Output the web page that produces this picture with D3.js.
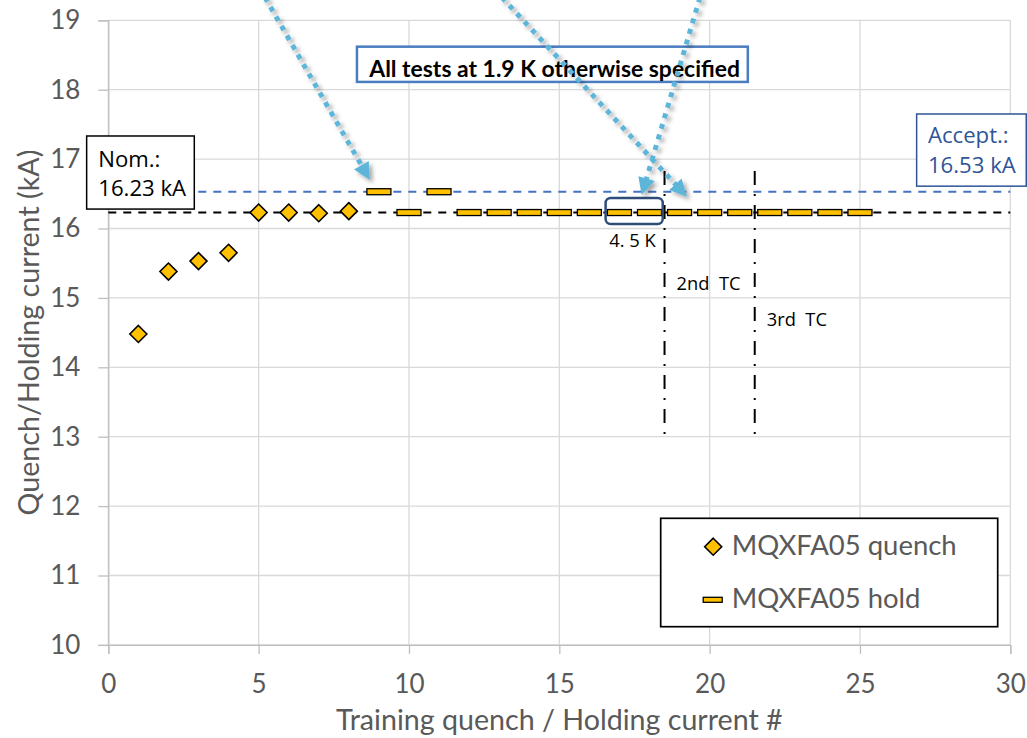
<!DOCTYPE html>
<html><head><meta charset="utf-8">
<script src="https://cdn.jsdelivr.net/npm/d3@7"></script>
<style>
body{margin:0;background:#fff}
svg{display:block}
text{white-space:pre}
</style>
</head><body>
<svg id="chart" width="1027" height="738"></svg>
<script>
// ---------------- data ----------------
const quenchX = [1, 2, 3, 4, 5, 6, 7, 8];
const quenchY = [14.48, 15.38, 15.53, 15.65, 16.23, 16.23, 16.22, 16.25];
const holdX = [9, 10, 11, 12, 13, 14, 15, 16, 17, 18, 19, 20, 21, 22, 23, 24, 25];
const holdY = [16.53, 16.23, 16.53, 16.23, 16.23, 16.23, 16.23, 16.23, 16.23, 16.23, 16.23, 16.23, 16.23, 16.23, 16.23, 16.23, 16.23];
const xTicks = [0, 5, 10, 15, 20, 25, 30];
const yTicks = [10, 11, 12, 13, 14, 15, 16, 17, 18, 19];
const nominalValue = 16.23;
const acceptValue = 16.53;
const tcX = [18.5, 21.5];
const tcLabels = ["2nd  TC", "3rd  TC"];
const seriesNames = ["MQXFA05 quench", "MQXFA05 hold"];

// ---------------- layout ----------------
const svg = d3.select("#chart");
const x = d3.scaleLinear().domain([0, 30]).range([108.3, 1010.3]);
const y = d3.scaleLinear().domain([10, 19]).range([644.9, 20.3]);
const FONT = "Lato, 'Open Sans', sans-serif";
const FONT2 = "'Open Sans', 'Noto Sans', sans-serif";
const GRID = "#D9D9D9", AXIS = "#BFBFBF", TXT = "#595959";
const GOLD = "#FFC000";

function fitSize(text, family, weight, target, base) {
  base = base || 20;
  const t = svg.append("text").attr("font-family", family).attr("font-weight", weight)
    .attr("font-size", base).text(text);
  const w = t.node().getComputedTextLength();
  t.remove();
  return base * target / w;
}

svg.append("rect").attr("width", 1027).attr("height", 738).attr("fill", "#fff");

const defs = svg.append("defs");
const f = defs.append("filter").attr("id", "shadow").attr("x", "-20%").attr("y", "-20%").attr("width", "140%").attr("height", "140%");
f.append("feDropShadow").attr("dx", 3).attr("dy", 3).attr("stdDeviation", 2)
  .attr("flood-color", "#000").attr("flood-opacity", 0.35);

// gridlines
const g = svg.append("g");
g.selectAll(".hg").data(yTicks).join("line")
  .attr("x1", x(0)).attr("x2", x(30))
  .attr("y1", d => y(d)).attr("y2", d => y(d))
  .attr("stroke", GRID).attr("stroke-width", 1.3);
g.selectAll(".vg").data(xTicks).join("line")
  .attr("y1", y(10)).attr("y2", y(19))
  .attr("x1", d => x(d)).attr("x2", d => x(d))
  .attr("stroke", GRID).attr("stroke-width", 1.3);

// axes
const tickFs = 26;
const yAxis = svg.append("g").attr("transform", `translate(${x(0)},0)`)
  .call(d3.axisLeft(y).tickValues(yTicks).tickSize(10).tickPadding(18).tickFormat(d3.format("d")));
const xAxis = svg.append("g").attr("transform", `translate(0,${y(10)})`)
  .call(d3.axisBottom(x).tickValues(xTicks).tickSize(9).tickPadding(21).tickFormat(d3.format("d")));
[yAxis, xAxis].forEach(a => {
  a.select(".domain").attr("stroke", AXIS).attr("stroke-width", 1.3);
  a.selectAll(".tick line").attr("stroke", AXIS).attr("stroke-width", 1.3);
  a.selectAll(".tick text").attr("fill", TXT).attr("font-family", FONT).attr("font-size", tickFs);
});

// axis titles
const xtFs = fitSize("Training quench / Holding current #", FONT, 400, 447);
svg.append("text").attr("x", (x(0) + x(30)) / 2).attr("y", 730)
  .attr("text-anchor", "middle").attr("font-family", FONT).attr("font-size", xtFs)
  .attr("fill", TXT).text("Training quench / Holding current #");
const ytFs = fitSize("Quench/Holding current (kA)", FONT, 400, 366);
svg.append("text").attr("transform", `translate(28,${(y(10) + y(19)) / 2}) rotate(-90)`)
  .attr("text-anchor", "middle").attr("dominant-baseline", "central")
  .attr("font-family", FONT).attr("font-size", ytFs)
  .attr("fill", TXT).text("Quench/Holding current (kA)");

// reference lines
svg.append("line").attr("x1", x(0)).attr("x2", x(30))
  .attr("y1", y(acceptValue)).attr("y2", y(acceptValue))
  .attr("stroke", "#4472C4").attr("stroke-width", 2).attr("stroke-dasharray", "8,7");
svg.append("line").attr("x1", x(0)).attr("x2", x(30))
  .attr("y1", y(nominalValue)).attr("y2", y(nominalValue))
  .attr("stroke", "#000").attr("stroke-width", 2).attr("stroke-dasharray", "8,7");

// thermal cycle lines
const tcTop = 16.83, tcBottom = 12.95;
const tcLabelY = [15.11, 14.60];
svg.selectAll(".tc").data(tcX).join("line")
  .attr("x1", d => x(d)).attr("x2", d => x(d))
  .attr("y1", y(tcTop)).attr("y2", y(tcBottom))
  .attr("stroke", "#000").attr("stroke-width", 2).attr("stroke-dasharray", "14,9,2,9");
const tcFs = fitSize("2nd  TC", FONT2, 400, 64);
svg.selectAll(".tcl").data(tcX).join("text")
  .attr("x", d => x(d) + 12).attr("y", (d, i) => y(tcLabelY[i]))
  .attr("font-family", FONT2).attr("font-size", tcFs).attr("fill", "#000")
  .text((d, i) => tcLabels[i]);

// hold markers
svg.selectAll(".hold").data(holdX).join("rect")
  .attr("x", d => x(d) - 12).attr("y", (d, i) => y(holdY[i]) - 3)
  .attr("width", 24).attr("height", 6)
  .attr("fill", GOLD).attr("stroke", "#000").attr("stroke-width", 1.3);

// quench markers
const diamond = h => `M0,${-h}L${h},0L0,${h}L${-h},0Z`;
svg.selectAll(".q").data(quenchX).join("path")
  .attr("d", diamond(8.5))
  .attr("transform", (d, i) => `translate(${x(d)},${y(quenchY[i])})`)
  .attr("fill", GOLD).attr("stroke", "#000").attr("stroke-width", 1.6);

// 4.5 K box
const kBox = {x0: 16.54, x1: 18.44, y0: 16.065, y1: 16.44};
svg.append("rect").attr("x", x(kBox.x0)).attr("y", y(kBox.y1))
  .attr("width", x(kBox.x1) - x(kBox.x0)).attr("height", y(kBox.y0) - y(kBox.y1))
  .attr("rx", 5).attr("fill", "none").attr("stroke", "#2E4D7B").attr("stroke-width", 2.5);
const kFs = fitSize("4. 5 K", FONT2, 400, 46.7);
svg.append("text").attr("x", x(16.66)).attr("y", y(15.737))
  .attr("font-family", FONT2).attr("font-size", kFs).attr("fill", "#000").text("4. 5 K");

// Nominal box
const nomBox = {x0: -0.72, x1: 2.86, y0: 16.28, y1: 17.333};
svg.append("rect").attr("x", x(nomBox.x0)).attr("y", y(nomBox.y1))
  .attr("width", x(nomBox.x1) - x(nomBox.x0)).attr("height", y(nomBox.y0) - y(nomBox.y1))
  .attr("fill", "#fff").attr("stroke", "#000").attr("stroke-width", 1.5);
const boxFs = fitSize("16.23 kA", FONT2, 400, 88);
svg.append("text").attr("x", x(-0.335)).attr("y", y(16.885))
  .attr("font-family", FONT2).attr("font-size", boxFs).attr("fill", "#000").text("Nom.:");
svg.append("text").attr("x", x(-0.335)).attr("y", y(16.468))
  .attr("font-family", FONT2).attr("font-size", boxFs).attr("fill", "#000").text(nominalValue.toFixed(2) + " kA");

// Acceptance box
const accBox = {x0: 26.885, x1: 30.53, y0: 16.61, y1: 17.65};
svg.append("rect").attr("x", x(accBox.x0)).attr("y", y(accBox.y1))
  .attr("width", x(accBox.x1) - x(accBox.x0)).attr("height", y(accBox.y0) - y(accBox.y1))
  .attr("fill", "#fff").attr("stroke", "#2F5597").attr("stroke-width", 1.5);
svg.append("text").attr("x", x(27.26)).attr("y", y(17.228))
  .attr("font-family", FONT2).attr("font-size", boxFs).attr("fill", "#2F5597").text("Accept.:");
svg.append("text").attr("x", x(27.26)).attr("y", y(16.796))
  .attr("font-family", FONT2).attr("font-size", boxFs).attr("fill", "#2F5597").text(acceptValue.toFixed(2) + " kA");

// banner box
const banBox = {x0: 8.27, x1: 21.27, y0: 18.112, y1: 18.62};
svg.append("rect").attr("x", x(banBox.x0)).attr("y", y(banBox.y1))
  .attr("width", x(banBox.x1) - x(banBox.x0)).attr("height", y(banBox.y0) - y(banBox.y1))
  .attr("fill", "#fff").attr("stroke", "#4A7CC0").attr("stroke-width", 2.5);
const banText = "All tests at 1.9 K otherwise specified";
const banFs = fitSize(banText, FONT, 700, 371);
svg.append("text").attr("x", x(8.68)).attr("y", y(18.187))
  .attr("font-family", FONT).attr("font-weight", 700).attr("font-size", banFs)
  .attr("fill", "#000").text(banText);

// arrows
const arrows = [
  {sx: 5.211, sy: 19.33, tx: 8.70, ty: 16.70},
  {sx: 13.09, sy: 19.33, tx: 19.245, ty: 16.458},
  {sx: 19.68, sy: 19.33, tx: 17.74, ty: 16.483}
];
const ag = svg.append("g").attr("filter", "url(#shadow)");
const ACOL = "#5DB6DA";
arrows.forEach(a => {
  const x0 = x(a.sx), y0 = y(a.sy), x1 = x(a.tx), y1 = y(a.ty);
  const dx = x1 - x0, dy = y1 - y0, L = Math.hypot(dx, dy);
  const ux = dx / L, uy = dy / L, px = -uy, py = ux;
  const hl = 17, hw = 8.5;
  const bx = x1 - ux * hl, by = y1 - uy * hl;
  ag.append("line").attr("x1", x0).attr("y1", y0).attr("x2", bx + ux * 2).attr("y2", by + uy * 2)
    .attr("stroke", ACOL).attr("stroke-width", 5).attr("stroke-dasharray", "5,6");
  ag.append("path")
    .attr("d", `M${x1},${y1}L${bx + px * hw},${by + py * hw}L${bx - px * hw},${by - py * hw}Z`)
    .attr("fill", ACOL);
});

// legend
const leg = {x0: 660.7, y0: 518.3, w: 337, h: 108.4};
svg.append("rect").attr("x", leg.x0).attr("y", leg.y0).attr("width", leg.w).attr("height", leg.h)
  .attr("fill", "#fff").attr("stroke", "#000").attr("stroke-width", 1.7);
const legFs = fitSize(seriesNames[0], FONT, 400, 225);
svg.append("path").attr("d", diamond(8.5))
  .attr("transform", `translate(${leg.x0 + 52.5},${leg.y0 + 28.4})`)
  .attr("fill", GOLD).attr("stroke", "#000").attr("stroke-width", 1.6);
svg.append("rect").attr("x", leg.x0 + 42.5).attr("y", leg.y0 + 79).attr("width", 19).attr("height", 5)
  .attr("fill", GOLD).attr("stroke", "#000").attr("stroke-width", 1.3);
svg.selectAll(".lt").data(seriesNames).join("text")
  .attr("x", leg.x0 + 71).attr("y", (d, i) => leg.y0 + 36.7 + i * 53.3)
  .attr("font-family", FONT).attr("font-size", legFs).attr("fill", TXT).text(d => d);
</script>
</body></html>
